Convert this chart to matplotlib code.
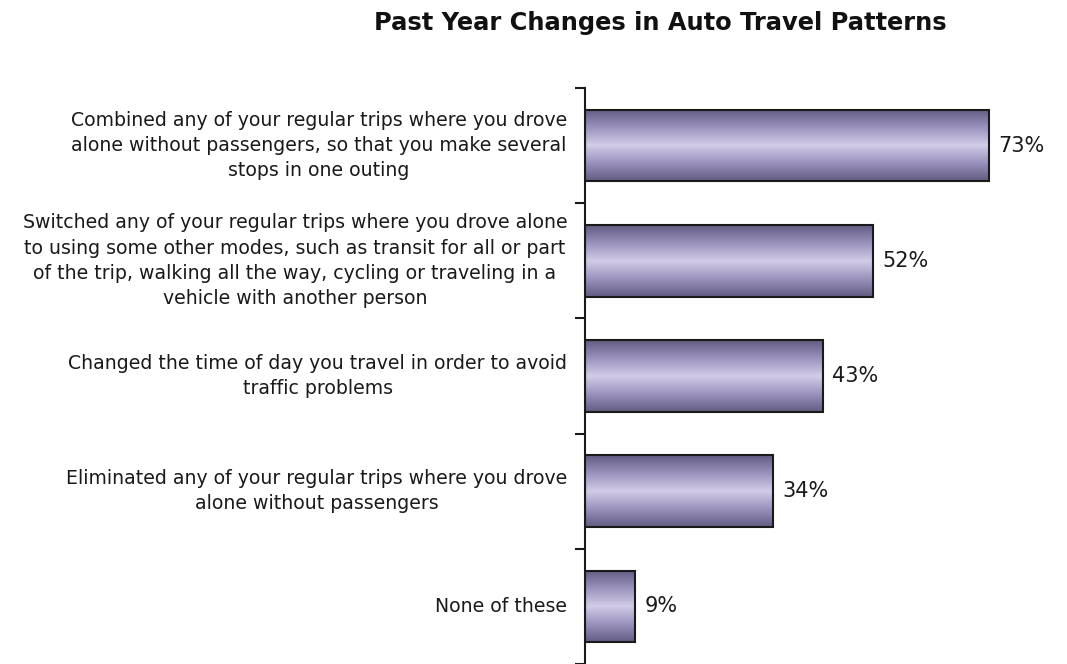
import numpy as np
import matplotlib.pyplot as plt
from matplotlib.colors import LinearSegmentedColormap

labels = [
    "Combined any of your regular trips where you drove\nalone without passengers, so that you make several\nstops in one outing",
    "Switched any of your regular trips where you drove alone\nto using some other modes, such as transit for all or part\nof the trip, walking all the way, cycling or traveling in a\nvehicle with another person",
    "Changed the time of day you travel in order to avoid\ntraffic problems",
    "Eliminated any of your regular trips where you drove\nalone without passengers",
    "None of these",
]
values = [73, 52, 43, 34, 9]

fig = plt.figure(figsize=(10.67, 6.64), dpi=100)
ax = fig.add_axes([585 / 1067, 0, 470 / 1067, (664 - 88) / 664])

n = len(values)
ypos = np.arange(n)

bars = ax.barh(ypos, values, height=0.62, facecolor='none',
               edgecolor='#1a1a1a', linewidth=1.5, zorder=3)

# vertical shading inside each bar
cmap = LinearSegmentedColormap.from_list(
    'grad', ['#625b82', '#9a92bc', '#d2cce8', '#9a92bc', '#625b82'])
grad = np.linspace(0, 1, 256).reshape(-1, 1)
for b, v in zip(bars, values):
    x0, y0 = b.get_x(), b.get_y()
    w, h = b.get_width(), b.get_height()
    im = ax.imshow(grad, cmap=cmap, aspect='auto',
                   extent=[x0, x0 + w, y0 + h, y0], zorder=2)
    im.set_clip_path(b)
    ax.text(x0 + w + 1.7, y0 + h / 2, f"{v}%",
            va='center', ha='left', fontsize=15, color='#1a1a1a')

ax.set_xlim(0, 85)
ax.set_ylim(n - 0.5, -0.5)

for i, lab in enumerate(labels):
    ax.text(-3.2, i, lab, ha='right', va='center', multialignment='center',
            fontsize=13.6, color='#1a1a1a', linespacing=1.42)

for s in ['top', 'right', 'bottom']:
    ax.spines[s].set_visible(False)
ax.spines['left'].set_linewidth(1.5)
ax.spines['left'].set_color('#1a1a1a')
ax.set_xticks([])
ax.set_yticks(np.arange(n + 1) - 0.5)
ax.set_yticklabels([])
ax.tick_params(axis='y', length=7, width=1.5, color='#1a1a1a')

fig.text(660 / 1067, 1 - 23 / 664, "Past Year Changes in Auto Travel Patterns",
         ha='center', va='center', fontsize=17.4, fontweight='bold', color='#111111')

fig.savefig('out.png', dpi=100)
